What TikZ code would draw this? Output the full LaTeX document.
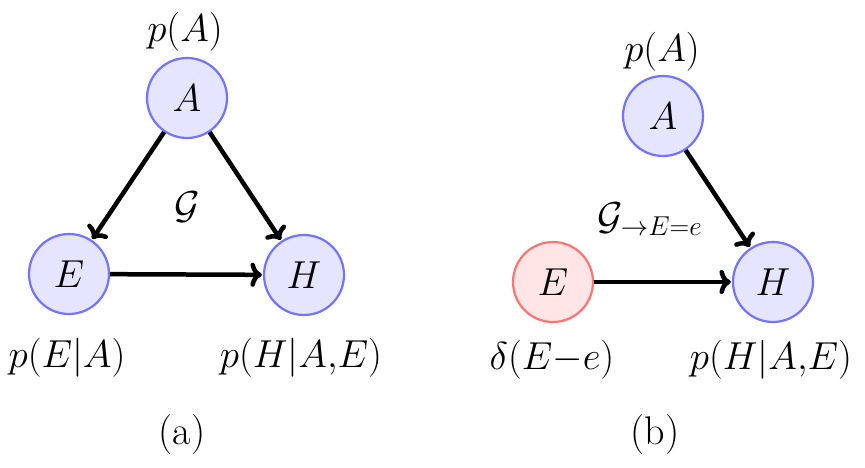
\RequirePackage{fix-cm}
\documentclass[tikz,border=0pt]{standalone}
\usepackage{fontspec}
\usetikzlibrary{arrows.meta}
\tikzset{
  var/.style={circle, draw=blue!55, fill=blue!10, line width=2.2pt, minimum size=80pt, inner sep=0pt, font=\fontsize{39}{44}\selectfont},
  fixed/.style={var, draw=red!55, fill=red!10},
  lab/.style={inner sep=0pt, font=\fontsize{39}{44}\selectfont},
  captext/.style={inner sep=0pt, font=\fontsize{40}{44}\selectfont},
  edge/.style={line width=4.5pt, -{To[scale=1.0]}, shorten >=1pt}
}
\begin{document}
\begin{tikzpicture}[x=1pt,y=-1pt]
\useasboundingbox (0,0) rectangle (865,468);
% (a)
\node[var] (A1) at (187,98) {$A$};
\node[var] (E1) at (69,274) {$E$};
\node[var] (H1) at (304,275) {$H$};
\node[lab] (pA1) at (185,32) {$p(A)$};
\node[lab] (pE1) at (67,358) {$p(E|A)$};
\node[lab] (pH1) at (301,358) {$p(H|A{,}E)$};
\node[lab] (G1) at (187,207) {$\mathcal{G}$};
\node[captext] (ca) at (182,435) {(a)};
\draw[edge] (A1) -- (E1);
\draw[edge] (A1) -- (H1);
\draw[edge] (E1) -- (H1);
% (b)
\node[var] (A2) at (663,116) {$A$};
\node[fixed] (E2) at (553,282) {$E$};
\node[var] (H2) at (773,282) {$H$};
\node[lab] (pA2) at (662,52) {$p(A)$};
\node[lab] (dE2) at (552,360) {$\delta(E{-}e)$};
\node[lab] (pH2) at (771,360) {$p(H|A{,}E)$};
\node[lab] (G2) at (650,219) {$\mathcal{G}_{\rightarrow E=e}$};
\node[captext] (cb) at (655,435) {(b)};
\draw[edge] (A2) -- (H2);
\draw[edge] (E2) -- (H2);
\end{tikzpicture}
\end{document}
